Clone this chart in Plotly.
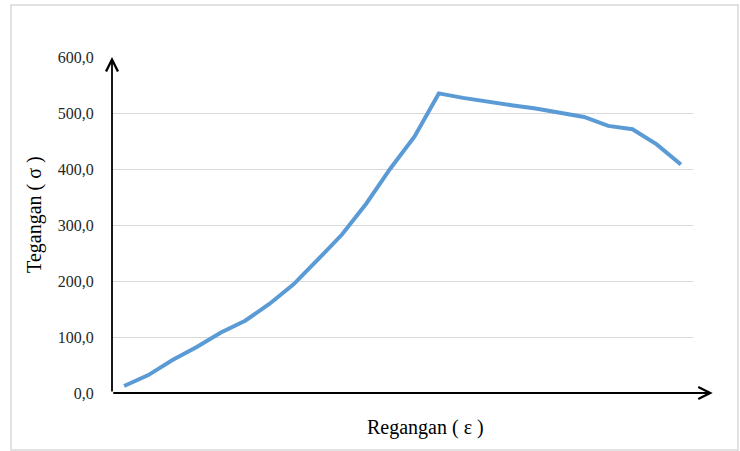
import plotly.graph_objects as go

# Stress-strain curve (tegangan vs regangan), one value per loading step
langkah = list(range(1, 25))
tegangan = [12.5, 32, 59, 82, 108, 129, 159, 194, 238, 283, 338, 401,
            458, 535, 527, 520, 514, 508, 501, 493, 477, 471, 444, 408]

y_ticks = [0, 100, 200, 300, 400, 500, 600]
y_tick_labels = ["0,0", "100,0", "200,0", "300,0", "400,0", "500,0", "600,0"]

judul_x = "Regangan ( ε )"
judul_y = "Tegangan ( σ )"

SERIF = "Liberation Serif"

fig = go.Figure()
fig.add_trace(go.Scatter(
    x=langkah, y=tegangan, mode="lines",
    line=dict(color="#5b9bd5", width=4),
    hoverinfo="skip", showlegend=False,
))

fig.update_layout(
    width=740, height=451,
    margin=dict(l=112, r=47, t=57, b=58),
    paper_bgcolor="white", plot_bgcolor="white",
    font=dict(family=SERIF, color="#000000"),
    xaxis=dict(
        range=[0.5, 24.5], showgrid=False, zeroline=False,
        showticklabels=False, showline=False, ticks="",
    ),
    yaxis=dict(
        range=[0, 600], tickvals=y_ticks, ticktext=y_tick_labels,
        showgrid=True, gridcolor="#d9d9d9", gridwidth=1,
        zeroline=False, showline=False,
        ticks="outside", ticklen=14, tickcolor="rgba(0,0,0,0)",
        tickfont=dict(family=SERIF, size=16, color="#262626"),
    ),
)

# Outer chart frame
fig.add_shape(type="rect", xref="paper", yref="paper",
              x0=-0.1738, x1=1.0775, y0=-0.1696, y1=1.1548,
              line=dict(color="#d9d9d9", width=1.5), layer="below")

# Axes drawn as arrows
fig.add_annotation(xref="paper", yref="paper", x=1.034, y=0,
                   ax=-601, ay=0, text="", showarrow=True,
                   arrowhead=5, arrowsize=1.3, arrowwidth=1.8,
                   arrowcolor="#000000", standoff=0, startstandoff=0)
fig.add_annotation(xref="paper", yref="paper", x=0, y=1,
                   ax=0, ay=336, text="", showarrow=True,
                   arrowhead=5, arrowsize=1.3, arrowwidth=1.8,
                   arrowcolor="#000000", standoff=0, startstandoff=0)

# Axis titles
fig.add_annotation(xref="paper", yref="paper", x=0.539, y=-0.104,
                   xanchor="center", yanchor="middle",
                   text=judul_x, showarrow=False,
                   font=dict(family=SERIF, size=20, color="#000000"))
fig.add_annotation(xref="paper", yref="paper", x=-0.1325, y=0.53,
                   xanchor="center", yanchor="middle",
                   text=judul_y, showarrow=False, textangle=-90,
                   font=dict(family=SERIF, size=20, color="#000000"))

fig.write_html("out.html")
